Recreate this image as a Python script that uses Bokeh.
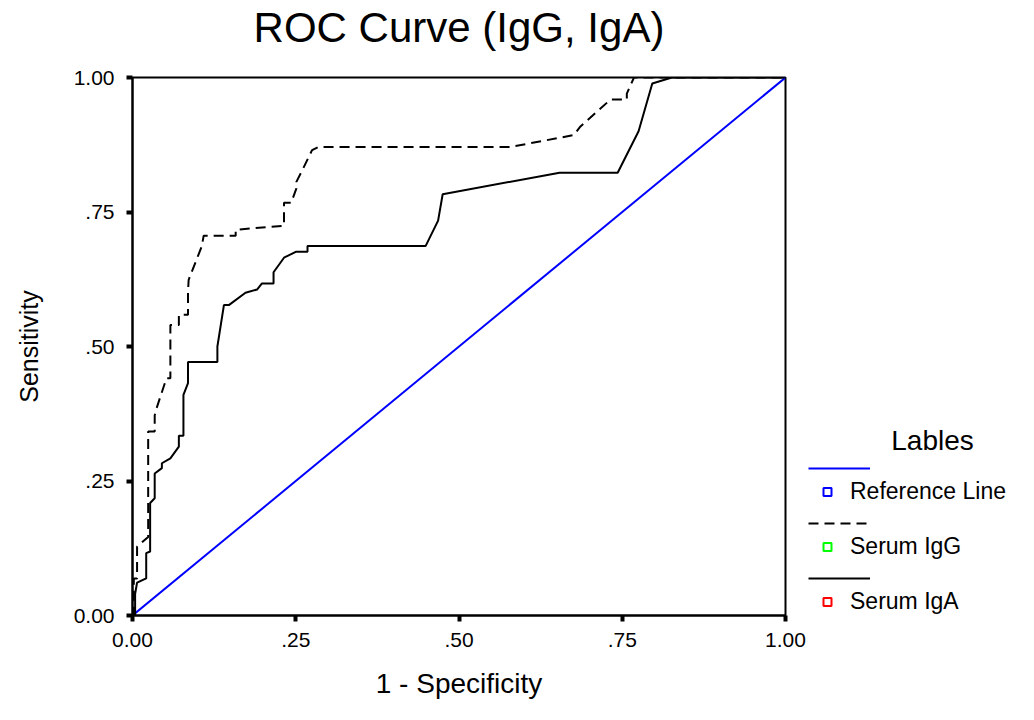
from bokeh.plotting import figure
from bokeh.layouts import row
from bokeh.models import Range1d, FixedTicker, Legend, LegendItem, Label, Title
from bokeh.embed import file_html
from bokeh.resources import INLINE

# ---- data ----
ref_x = [0.0, 1.0]
ref_y = [0.0, 1.0]

igg_x = [0.0, 0.002, 0.002, 0.007, 0.007, 0.024, 0.024, 0.034, 0.034, 0.036, 0.052, 0.058,
         0.058, 0.071, 0.071, 0.085, 0.085, 0.086, 0.106, 0.109, 0.158, 0.158, 0.232, 0.232,
         0.243, 0.251, 0.251, 0.261, 0.275, 0.285, 0.579, 0.676, 0.686, 0.732, 0.757, 0.757,
         0.768, 1.0]
igg_y = [0.0, 0.0, 0.069, 0.069, 0.128, 0.146, 0.342, 0.342, 0.372, 0.382, 0.441, 0.441,
         0.540, 0.540, 0.559, 0.559, 0.602, 0.624, 0.686, 0.706, 0.706, 0.717, 0.7245, 0.767,
         0.767, 0.794, 0.806, 0.830, 0.865, 0.871, 0.871, 0.893, 0.909, 0.959, 0.959, 0.970,
         1.0, 1.0]

iga_x = [0.0, 0.004, 0.004, 0.007, 0.021, 0.021, 0.027, 0.027, 0.034, 0.034, 0.045, 0.045,
         0.058, 0.071, 0.071, 0.078, 0.078, 0.085, 0.085, 0.130, 0.130, 0.140, 0.1475, 0.173,
         0.191, 0.198, 0.216, 0.216, 0.232, 0.250, 0.268, 0.268, 0.449, 0.468, 0.475, 0.654,
         0.743, 0.775, 0.796, 0.826, 1.0]
iga_y = [0.0, 0.0, 0.040, 0.061, 0.069, 0.116, 0.119, 0.209, 0.218, 0.264, 0.274, 0.283,
         0.292, 0.314, 0.334, 0.334, 0.410, 0.432, 0.471, 0.471, 0.500, 0.577, 0.577, 0.600,
         0.606, 0.617, 0.617, 0.638, 0.665, 0.676, 0.676, 0.687, 0.687, 0.734, 0.783, 0.823,
         0.823, 0.900, 0.989, 1.0, 1.0]

tick_values = [0.0, 0.25, 0.5, 0.75, 1.0]
tick_labels = ["0.00", ".25", ".50", ".75", "1.00"]

title_text = "ROC Curve (IgG, IgA)"
legend_title = "Lables"
series_names = ["Reference Line", "Serum IgG", "Serum IgA"]
series_x = [ref_x, igg_x, iga_x]
series_y = [ref_y, igg_y, iga_y]
line_colors = ["#0000FF", "black", "black"]
line_dashes = ["solid", "10 6", "solid"]
marker_colors = ["#0000FF", "#00FF00", "#FF0000"]

FONT = "Liberation Sans"
TOTAL_W, TOTAL_H = 1030, 716
MAIN_W = 808
BORDER_TOP, FRAME_H = 77, 538
BORDER_BOTTOM = TOTAL_H - BORDER_TOP - FRAME_H

p = figure(width=MAIN_W, height=TOTAL_H, output_backend="svg", toolbar_location=None,
           title=None, x_range=Range1d(0, 1), y_range=Range1d(0, 1),
           min_border_left=132, min_border_right=MAIN_W - 132 - 653,
           min_border_top=BORDER_TOP, min_border_bottom=BORDER_BOTTOM)
# a thin spacer title next to the frame, then the real title above it
p.add_layout(Title(text=" ", text_font_size="1px", standoff=24), "above")
p.add_layout(Title(text=title_text, align="center", text_font=FONT, text_font_size="42px",
                   text_font_style="normal", text_color="black", standoff=0), "above")
p.grid.visible = False
p.background_fill_color = "white"
p.border_fill_color = "white"
p.outline_line_color = "black"
p.outline_line_width = 2

overrides = {v: t for v, t in zip(tick_values, tick_labels)}
for ax in (p.xaxis[0], p.yaxis[0]):
    ax.ticker = FixedTicker(ticks=tick_values)
    ax.major_label_overrides = overrides
    ax.minor_tick_line_color = None
    ax.major_tick_in = 0
    ax.major_tick_out = 6
    ax.major_tick_line_width = 4
    ax.major_tick_line_color = "black"
    ax.axis_line_width = 2
    ax.axis_line_color = "black"
    ax.major_label_text_font = FONT
    ax.major_label_text_font_size = "21px"
    ax.major_label_text_color = "black"
    ax.axis_label_text_font = FONT
    ax.axis_label_text_font_style = "normal"
    ax.axis_label_text_color = "black"

p.xaxis.axis_label = "1 - Specificity"
p.xaxis.axis_label_text_font_size = "28px"
p.xaxis.major_label_standoff = 11
p.xaxis.axis_label_standoff = 18
p.yaxis.axis_label = "Sensitivity"
p.yaxis.axis_label_text_font_size = "25px"
p.yaxis.major_label_standoff = 12
p.yaxis.axis_label_standoff = 28

for xs, ys, c, d in zip(series_x, series_y, line_colors, line_dashes):
    p.line(xs, ys, line_color=c, line_width=2, line_dash=d)

# ---- legend panel (a second, axis-less figure to the right, frame aligned with p) ----
LEG_W = TOTAL_W - MAIN_W
q = figure(width=LEG_W, height=TOTAL_H, output_backend="svg", toolbar_location=None,
           x_range=Range1d(0, LEG_W), y_range=Range1d(0, FRAME_H),
           x_axis_location=None, y_axis_location=None,
           min_border_left=0, min_border_right=0,
           min_border_top=BORDER_TOP, min_border_bottom=BORDER_BOTTOM)
q.grid.visible = False
q.outline_line_color = None
q.background_fill_color = "white"
q.border_fill_color = "white"

# hidden copies of the series, used only as legend proxies
leg_lines = [q.line(xs, ys, line_color=c, line_width=2, line_dash=d, visible=False)
             for xs, ys, c, d in zip(series_x, series_y, line_colors, line_dashes)]
leg_marks = [q.scatter(xs, ys, marker="square", size=8, line_color=c,
                       fill_color="white", line_width=2, visible=False)
             for xs, ys, c in zip(series_x, series_y, marker_colors)]

legend_lines = Legend(
    items=[LegendItem(label=" ", renderers=[r]) for r in leg_lines],
    location=(0, 27), glyph_width=62, glyph_height=20, label_height=20,
    spacing=35, padding=0, margin=0, border_line_alpha=0, background_fill_alpha=0,
    label_text_font_size="10px", label_width=1, label_standoff=0)
legend_marks = Legend(
    items=[LegendItem(label=n, renderers=[m]) for n, m in zip(series_names, leg_marks)],
    location=(9, 0), glyph_width=20, glyph_height=27, label_height=27,
    spacing=28, padding=0, margin=0, border_line_alpha=0, background_fill_alpha=0,
    label_text_font=FONT, label_text_font_size="23px", label_text_color="black",
    label_standoff=13)
q.add_layout(legend_lines)
q.add_layout(legend_marks)
q.add_layout(Label(x=124, y=175, text=legend_title, text_align="center",
                   text_baseline="middle", text_font=FONT, text_font_size="28px",
                   text_color="black"))

layout = row(p, q, spacing=0)
open("out.html", "w").write(file_html(layout, INLINE))
